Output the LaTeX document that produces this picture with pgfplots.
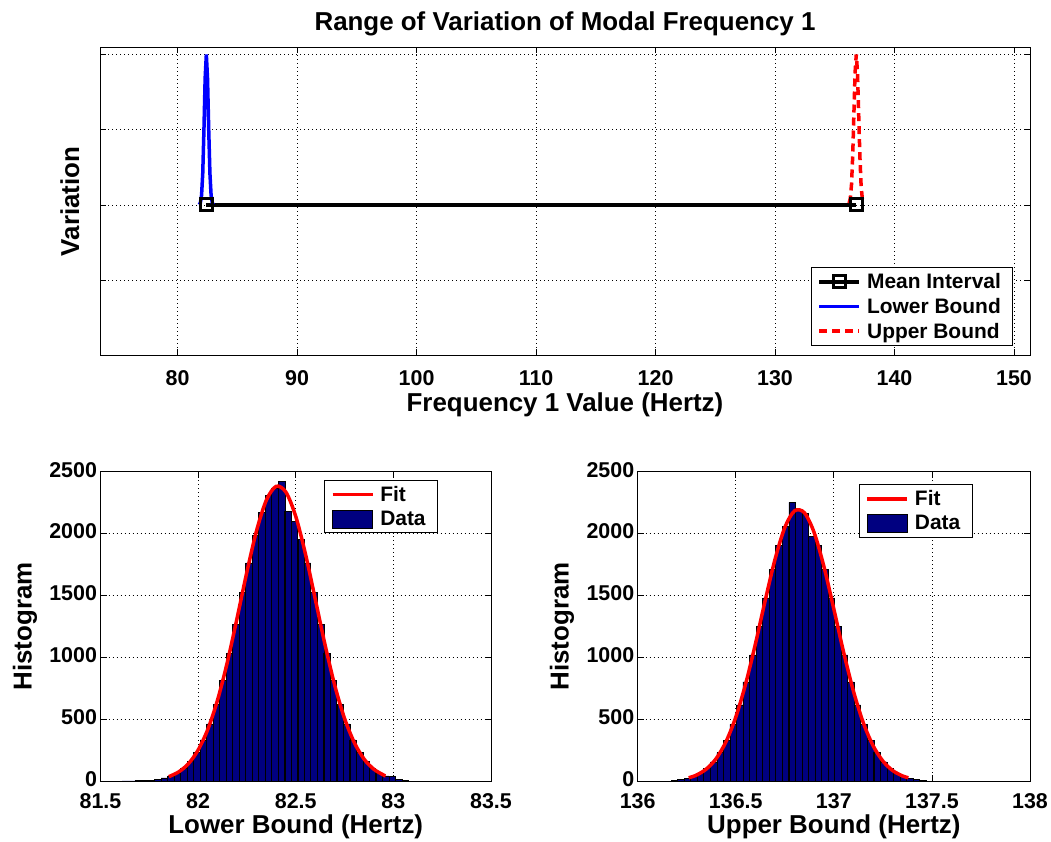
\documentclass[border=0pt]{standalone}
\usepackage{fontspec}
\setmainfont{Liberation Sans}
\usepackage{pgfplots}
\pgfplotsset{compat=1.18}
\definecolor{navy}{rgb}{0,0,0.5}
\pgfplotsset{
  mystyle/.style={
    scale only axis,
    axis line style={black, line width=1bp},
    tick style={black, line width=0.8bp},
    tick align=inside,
    major tick length=6bp,
    grid=major,
    major grid style={black, line width=0.8bp, dash pattern=on 0.8bp off 3.2bp},
    /pgf/number format/assume math mode=true,
    /pgf/number format/1000 sep={},
    scaled ticks=false,
    tick label style={font=\bfseries\fontsize{21.5}{25}\selectfont},
    yticklabel style={yshift=2bp},
    label style={font=\bfseries\fontsize{26}{30}\selectfont},
    title style={font=\bfseries\fontsize{26}{30}\selectfont},
    legend style={font=\bfseries\fontsize{21}{25}\selectfont, draw=black, line width=0.8bp, inner xsep=6bp, inner ysep=4bp, row sep=4bp,
      nodes={inner xsep=6bp}},
    legend cell align=left,
    legend image code/.code={\draw[##1, mark repeat=2, mark phase=2] plot coordinates {(0bp,0bp) (20bp,0bp) (40bp,0bp)};},
  }
}
\begin{document}
\begin{tikzpicture}
\useasboundingbox (0,0) rectangle (1051bp,842bp);
% ---------------- top axis ----------------
\begin{axis}[mystyle,
  at={(100bp,486.5bp)}, anchor=south west,
  width=930bp, height=308.2bp,
  xmin=73.5, xmax=151.34, ymin=0, ymax=2.047,
  xtick={80,90,...,150}, ytick={0,0.5,1,1.5,2}, yticklabels={},
  xticklabel style={yshift=-12bp},
  title={Range of Variation of Modal Frequency 1},
  title style={at={(axis description cs:0.5,1.058)}, anchor=center},
  xlabel={Frequency 1 Value (Hertz)},
  xlabel style={at={(axis description cs:0.5,-0.1606)}, anchor=center},
  ylabel={Variation},
  ylabel style={at={(axis description cs:-0.0323,0.5)}, anchor=center, rotate=0},
  legend style={at={(0.982,0.031)}, anchor=south east},
]
\addplot[black, line width=3.5bp, mark=square, mark size=6bp, mark options={solid, line width=3bp}] coordinates {(82.40,1) (136.80,1)};
\addlegendentry{Mean Interval}
\addplot[blue, line width=3.5bp] coordinates {(81.8,1.002) (81.9,1.013) (82.0,1.063) (82.1,1.21) (82.2,1.50) (82.3,1.84) (82.4,2.0) (82.5,1.84) (82.6,1.50) (82.7,1.21) (82.8,1.063) (82.9,1.013) (83.0,1.002)};
\addlegendentry{Lower Bound}
\addplot[red, line width=3.5bp, dash pattern=on 8bp off 5bp] coordinates {(136.2,1.011) (136.3,1.044) (136.4,1.135) (136.5,1.325) (136.6,1.607) (136.7,1.882) (136.8,2.0) (136.9,1.882) (137.0,1.607) (137.1,1.325) (137.2,1.135) (137.3,1.044) (137.4,1.011)};
\addlegendentry{Upper Bound}
\end{axis}
% ---------------- bottom left ----------------
\begin{axis}[mystyle,
  at={(100.5bp,61bp)}, anchor=south west,
  width=390.5bp, height=309.3bp,
  xmin=81.5, xmax=83.5, ymin=0, ymax=2500,
  xtick={81.5,82,82.5,83,83.5}, ytick={0,500,...,2500},
  xticklabel style={yshift=-9bp},
  xlabel={Lower Bound (Hertz)},
  xlabel style={at={(axis description cs:0.5,-0.1487)}, anchor=center},
  ylabel={Histogram},
  ylabel style={at={(axis description cs:-0.1933,0.5)}, anchor=center, rotate=0},
  legend style={at={(0.8643,0.9732)}, anchor=north east},
]
\addlegendimage{red, line width=3.5bp}
\addlegendentry{Fit}
\addlegendimage{legend image code/.code={\draw[fill=navy, draw=black, line width=0.5bp] (0bp,-9bp) rectangle (40bp,9bp);}}
\addlegendentry{Data}
\addplot[ybar, bar width=0.03333, bar shift=0pt, fill=navy, draw=black, line width=0.5bp, forget plot] coordinates {
(81.627,1) (81.660,2) (81.693,3) (81.727,5) (81.760,8) (81.793,14) (81.827,25) (81.860,41)
(81.893,66) (81.927,104) (81.960,157) (81.993,231) (82.027,333) (82.060,461) (82.093,619)
(82.127,814) (82.160,1031) (82.193,1268) (82.227,1522) (82.260,1763) (82.293,1985) (82.327,2174)
(82.360,2306) (82.393,2370) (82.427,2420) (82.460,2180) (82.493,2100) (82.527,1950) (82.560,1763)
(82.593,1522) (82.627,1268) (82.660,1031) (82.693,814) (82.727,619) (82.760,461) (82.793,333)
(82.827,231) (82.860,157) (82.893,104) (82.927,66) (82.960,41) (82.993,35) (83.027,14) (83.060,8)};
\addplot[red, line width=3.5bp, smooth, forget plot] coordinates {
(81.85,35) (81.90,73) (81.95,139) (82.00,250) (82.05,419) (82.10,657) (82.15,963) (82.20,1320)
(82.25,1691) (82.30,2027) (82.35,2272) (82.40,2382) (82.45,2334) (82.50,2139) (82.55,1833)
(82.60,1469) (82.65,1101) (82.70,771) (82.75,505) (82.80,310) (82.85,177) (82.90,95) (82.95,48) (82.96,41)};
\end{axis}
% ---------------- bottom right ----------------
\begin{axis}[mystyle,
  at={(637.7bp,61bp)}, anchor=south west,
  width=392.3bp, height=309.3bp,
  xmin=136, xmax=138, ymin=0, ymax=2500,
  xtick={136,136.5,137,137.5,138}, ytick={0,500,...,2500},
  xticklabel style={yshift=-9bp},
  xlabel={Upper Bound (Hertz)},
  xlabel style={at={(axis description cs:0.5,-0.1487)}, anchor=center},
  ylabel={Histogram},
  ylabel style={at={(axis description cs:-0.193,0.5)}, anchor=center, rotate=0},
  legend style={at={(0.854,0.960)}, anchor=north east},
]
\addlegendimage{red, line width=3.5bp}
\addlegendentry{Fit}
\addlegendimage{legend image code/.code={\draw[fill=navy, draw=black, line width=0.5bp] (0bp,-9bp) rectangle (40bp,9bp);}}
\addlegendentry{Data}
\addplot[ybar, bar width=0.03333, bar shift=0pt, fill=navy, draw=black, line width=0.5bp, forget plot] coordinates {
(136.187,8) (136.220,14) (136.253,23) (136.287,40) (136.320,64) (136.353,100) (136.387,155)
(136.420,229) (136.453,327) (136.487,457) (136.520,615) (136.553,801) (136.587,1019) (136.620,1247)
(136.653,1480) (136.687,1710) (136.720,1906) (136.753,2061) (136.787,2253) (136.820,2196) (136.853,2162)
(136.887,1980) (136.920,1906) (136.953,1710) (136.987,1480) (137.020,1247) (137.053,1019) (137.087,801)
(137.120,615) (137.153,457) (137.187,327) (137.220,229) (137.253,155) (137.287,100) (137.320,64)
(137.353,40) (137.387,23) (137.420,14) (137.453,8)};
\addplot[red, line width=3.5bp, smooth, forget plot] coordinates {
(136.26,26) (136.30,48) (136.35,97) (136.40,181) (136.45,317) (136.50,516) (136.55,783) (136.60,1107)
(136.65,1459) (136.70,1791) (136.75,2049) (136.80,2184) (136.85,2168) (136.90,2006) (136.95,1729)
(137.00,1389) (137.05,1039) (137.10,725) (137.15,471) (137.20,285) (137.25,161) (137.30,84) (137.35,41) (137.38,26)};
\end{axis}
\end{tikzpicture}
\end{document}
